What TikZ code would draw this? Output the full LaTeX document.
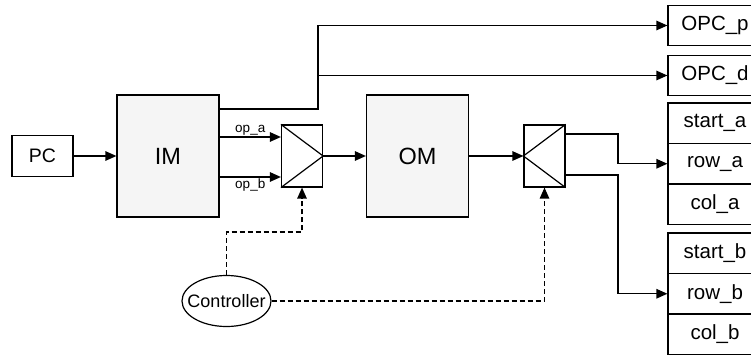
\documentclass[tikz,border=0pt]{standalone}
\usepackage{fontspec}
\setmainfont{Liberation Sans}
\usetikzlibrary{arrows.meta,shapes.geometric,calc}
\definecolor{blockfill}{HTML}{F5F5F5}
\begin{document}
\begin{tikzpicture}[x=1pt,y=-1pt,line width=1.2pt,
  box/.style={draw,rectangle,inner sep=0pt},
  bigbox/.style={box,fill=blockfill,minimum width=102pt,minimum height=122pt,font=\fontsize{23.5}{26}\selectfont},
  muxbox/.style={box,minimum width=41pt,minimum height=62pt},
  regbox/.style={box,minimum width=94pt,minimum height=40.5pt,font=\fontsize{20.5}{24}\selectfont},
  arr/.style={-{Triangle[length=11pt,width=9.5pt]}},
  ctl/.style={arr,dash pattern=on 5pt off 3pt},
  lbl/.style={font=\fontsize{13.5}{16}\selectfont,inner sep=1.5pt}]
\useasboundingbox (0,0) rectangle (751,355);
\node[box,minimum width=61pt,minimum height=41pt,font=\fontsize{19.5}{22}\selectfont] (pc) at (42.5,156) {PC};
\node[bigbox] (im) at (168,156) {IM};
\node[muxbox] (mux1) at (302,156) {};
\node[bigbox] (om) at (417.5,156) {OM};
\node[muxbox] (mux2) at (544.5,156) {};
\node[draw,ellipse,minimum width=89pt,minimum height=51pt,inner sep=0pt,font=\fontsize{18}{20}\selectfont] (ctrl) at (226.5,301) {\makebox[0pt]{Controller}};
\node[regbox] (opcp) at (715,25.5) {OPC\_p};
\node[regbox] (opcd) at (715,75.5) {OPC\_d};
\node[regbox] (starta) at (715,123.25) {start\_a};
\node[regbox] (rowa) at (715,163.75) {row\_a};
\node[regbox] (cola) at (715,204.25) {col\_a};
\node[regbox] (startb) at (715,253.25) {start\_b};
\node[regbox] (rowb) at (715,293.75) {row\_b};
\node[regbox] (colb) at (715,334.25) {col\_b};
% mux triangles
\draw (mux1.north west) -- (mux1.east) -- (mux1.south west);
\draw (mux2.north east) -- (mux2.west) -- (mux2.south east);
% coordinates
\coordinate (j) at (318,0);
\coordinate (k) at (618,0);
\coordinate (c1) at (0,232);
\coordinate (m1a) at ([yshift=19pt]mux1.west);
\coordinate (m1b) at ([yshift=-21pt]mux1.west);
% connectors
\draw[arr] (pc.east) -- (im.west);
\draw[arr] (im.east |- m1a) -- node[lbl,above]{op\_a} (m1a);
\draw[arr] (im.east |- m1b) -- node[lbl,below]{op\_b} (m1b);
\draw[arr] ([yshift=47pt]im.east) -| (j |- opcp.west) -- (opcp.west);
\draw[arr] (j |- opcd.west) -- (opcd.west);
\draw[arr] (mux1.east) -- (om.west);
\draw[arr] (om.east) -- (mux2.west);
\draw[arr] ([yshift=22pt]mux2.east) -| (k |- rowa.west) -- (rowa.west);
\draw[arr] ([yshift=-19pt]mux2.east) -| (k |- rowb.west) -- (rowb.west);
\draw[ctl] (ctrl.north) |- (mux1.south |- c1) -- (mux1.south);
\draw[ctl] (ctrl.east) -| (mux2.south);
\end{tikzpicture}
\end{document}
